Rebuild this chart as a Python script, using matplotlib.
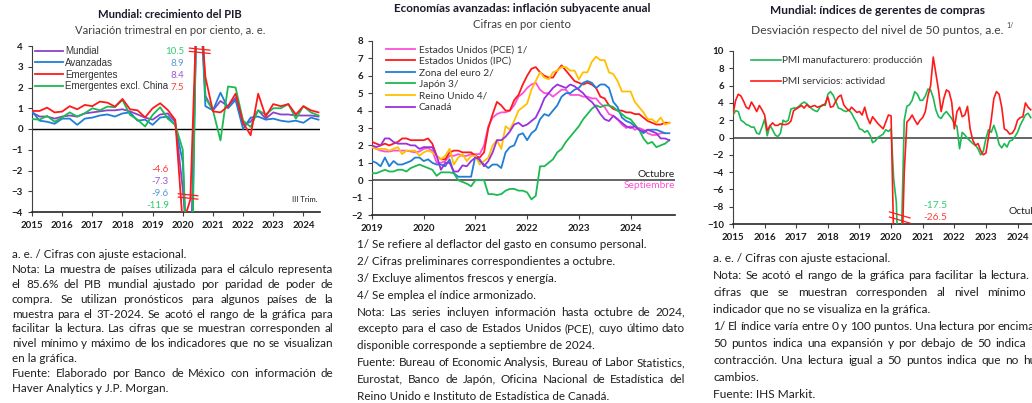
import matplotlib
matplotlib.use('Agg')
import matplotlib.pyplot as plt
import numpy as np

plt.rcParams['font.family'] = ['Lato', 'DejaVu Sans']

# ---------------- data ----------------
# Panel 1: quarterly GDP growth, 2015Q1 - 2024Q3
pib_mundial = [0.8, 0.6, 0.6, 0.5, 0.6, 0.65, 0.6, 0.75, 0.8, 0.85, 0.9, 0.9,
               0.95, 0.85, 0.7, 0.55, 0.45, 0.7, 0.75, 0.35, -2.9, -7.3, 8.4, 1.6,
               0.9, 1.35, 1.1, 1.5, 0.2, 0.35, 0.9, 0.5, 0.8, 0.7, 0.7, 0.65,
               0.65, 0.65, 0.6]
pib_avanzadas = [0.85, 0.4, 0.35, 0.25, 0.5, 0.5, 0.2, 0.5, 0.55, 0.65, 0.7, 0.6,
                 0.75, 0.8, 0.4, 0.45, 0.2, 0.55, 0.6, 0.2, -1.6, -9.6, 8.9, 1.1,
                 0.9, 1.75, 1.0, 1.4, 0.0, 0.55, 0.6, 0.45, 0.5, 0.4, 0.35, 0.4,
                 0.3, 0.55, 0.45]
pib_emergentes = [0.87, 0.87, 1.03, 0.8, 0.84, 1.1, 0.95, 1.16, 1.1, 1.32, 1.27, 1.08,
                  1.45, 0.95, 0.9, 0.56, 1.0, 1.24, 0.92, 0.44, -4.6, -3.4, 7.5, 2.5,
                  0.85, 0.8, 1.1, 1.7, 0.3, -0.3, 1.7, 0.6, 1.2, 1.1, 1.2, 0.7,
                  1.1, 0.9, 0.8]
pib_emerg_sin_china = [0.48, 0.45, 0.63, 0.35, 0.56, 0.8, 0.6, 0.76, 1.0, 0.9, 1.08, 1.05,
                       1.4, 0.68, 0.45, 0.12, 0.68, 1.05, 0.5, 0.2, -1.0, -11.9, 10.5, 1.5,
                       0.9, -0.55, 2.05, 2.0, 0.4, 0.1, 0.9, 0.7, 1.0, 1.0, 1.2, 0.5,
                       1.1, 0.8, 0.65]
pib_nombres = ['Mundial', 'Avanzadas', 'Emergentes', 'Emergentes excl. China']
pib_max = ['10.5', '8.9', '8.4', '7.5']
pib_min = ['-4.6', '-7.3', '-9.6', '-11.9']
anios_pib = list(range(2015, 2025))

# Panel 2: monthly core inflation, Jan 2019 - Oct 2024 (PCE to Sep 2024)
inf_pce = [1.9, 1.8, 1.7, 1.65, 1.65, 1.7, 1.7, 1.7, 1.7, 1.65, 1.6, 1.65,
           1.8, 1.85, 1.7, 1.0, 1.0, 1.1, 1.4, 1.4, 1.5, 1.4, 1.4, 1.5,
           1.5, 1.5, 2.0, 3.1, 3.6, 3.8, 3.9, 3.9, 4.0, 4.3, 4.8, 5.0,
           5.3, 5.5, 5.6, 5.2, 5.0, 5.0, 4.8, 5.0, 5.2, 5.2, 4.9, 4.9,
           4.9, 4.8, 4.8, 4.7, 4.7, 4.4, 4.2, 3.8, 3.7, 3.5, 3.2, 3.0,
           3.1, 2.9, 3.0, 2.9, 2.7, 2.6, 2.6, 2.7, 2.7]
inf_ipc = [2.2, 2.1, 2.0, 2.1, 2.0, 2.1, 2.2, 2.4, 2.4, 2.3, 2.3, 2.3,
           2.3, 2.4, 2.1, 1.4, 1.2, 1.2, 1.6, 1.7, 1.7, 1.6, 1.6, 1.6,
           1.4, 1.3, 1.6, 3.0, 3.8, 4.5, 4.3, 4.0, 4.0, 4.6, 4.9, 5.5,
           6.0, 6.4, 6.5, 6.2, 6.0, 5.9, 5.9, 6.3, 6.6, 6.3, 6.0, 5.7,
           5.6, 5.5, 5.6, 5.5, 5.3, 4.8, 4.7, 4.3, 4.1, 4.0, 4.0, 3.9,
           3.9, 3.8, 3.8, 3.6, 3.4, 3.3, 3.2, 3.2, 3.3, 3.3]
inf_euro = [1.1, 1.0, 0.8, 1.3, 0.8, 1.1, 0.9, 0.9, 1.0, 1.1, 1.3, 1.3,
            1.1, 1.2, 1.0, 0.9, 0.9, 0.8, 1.2, 0.4, 0.2, 0.2, 0.2, 0.2,
            1.4, 1.1, 0.9, 0.7, 0.9, 0.9, 0.7, 1.6, 1.9, 2.0, 2.6, 2.7,
            2.3, 2.7, 2.9, 3.5, 3.8, 3.7, 4.0, 4.3, 4.8, 5.0, 5.0, 5.2,
            5.3, 5.6, 5.7, 5.6, 5.3, 5.5, 5.5, 5.3, 4.5, 4.2, 3.6, 3.4,
            3.3, 3.1, 2.9, 2.7, 2.9, 2.9, 2.9, 2.8, 2.7, 2.7]
inf_japon = [0.4, 0.4, 0.5, 0.6, 0.5, 0.5, 0.6, 0.6, 0.5, 0.7, 0.8, 0.9,
             0.8, 0.7, 0.6, 0.25, 0.45, 0.45, 0.45, 0.4, 0.0, -0.1, -0.2, -0.35,
             0.0, 0.0, 0.0, -0.8, -0.8, -0.85, -0.8, -0.6, -0.5, -0.5, -0.6, -0.6,
             -0.7, -1.1, -0.9, 0.8, 0.8, 1.0, 1.2, 1.6, 1.8, 2.2, 2.5, 2.8,
             3.1, 3.5, 3.8, 4.1, 4.3, 4.2, 4.3, 4.3, 4.2, 4.0, 3.8, 3.6,
             3.5, 3.2, 2.9, 2.4, 2.1, 2.2, 1.9, 2.0, 2.1, 2.3]
inf_reino_unido = [1.9, 1.8, 1.8, 1.8, 1.7, 1.8, 1.9, 1.5, 1.7, 1.7, 1.7, 1.4,
                   1.6, 1.7, 1.6, 1.4, 1.2, 1.4, 1.8, 0.9, 1.3, 1.5, 1.1, 1.4,
                   1.4, 0.9, 1.1, 1.3, 2.0, 2.3, 1.8, 3.1, 2.9, 3.4, 4.0, 4.2,
                   4.4, 5.2, 5.7, 6.2, 5.9, 5.8, 6.2, 6.3, 6.5, 6.5, 6.3, 6.3,
                   5.8, 6.2, 6.2, 6.8, 7.1, 6.9, 6.9, 6.2, 6.1, 5.7, 5.1, 5.1,
                   5.1, 4.5, 4.2, 3.9, 3.5, 3.5, 3.3, 3.6, 3.2, 3.3]
inf_canada = [2.0, 1.9, 2.0, 2.4, 2.4, 2.2, 2.1, 2.1, 2.1, 2.0, 2.0, 1.8,
              1.9, 1.9, 1.9, 1.4, 0.6, 1.0, 1.0, 0.5, 0.5, 0.85, 0.8, 1.1,
              1.3, 1.2, 0.8, 1.1, 1.6, 2.3, 2.3, 2.5, 2.8, 3.2, 3.3, 3.1,
              3.2, 3.4, 3.6, 4.1, 4.7, 5.0, 5.3, 5.5, 5.4, 5.3, 5.5, 5.4,
              5.2, 5.0, 4.7, 4.5, 4.2, 3.8, 3.5, 3.4, 3.7, 3.5, 3.3, 3.1,
              3.0, 3.1, 2.9, 2.8, 2.9, 2.8, 2.7, 2.4, 2.4, 2.3]
inf_nombres = ['Estados Unidos (PCE) 1/', 'Estados Unidos (IPC)', 'Zona del euro 2/',
               'Japón 3/', 'Reino Unido 4/', 'Canadá']
anios_inf = list(range(2019, 2025))

# Panel 3: monthly PMI deviation from 50, Jan 2015 - Jun 2024
pmi_manuf = [2.6, 3.1, 3.0, 2.0, 1.8, 1.5, 1.4, 1.2, 1.2, 0.5, 0.4, 1.2,
             2.1, 0.2, 1.4, 0.9, 0.3, 0.1, 0.5, 2.0, 1.8, 2.0, 3.3, 3.4,
             3.4, 3.6, 3.9, 4.1, 3.9, 3.6, 3.3, 3.1, 3.0, 3.5, 3.8, 3.7,
             5.0, 5.3, 4.9, 4.2, 3.4, 3.3, 3.1, 3.0, 3.2, 2.8, 2.2, 1.7,
             1.0, 0.9, 0.6, 0.8, 0.3, -0.6, -0.4, 0.0, 0.2, 0.4, 0.9, 0.7,
             1.0, -4.9, -7.5, -17.5, -10.5, 2.0, 3.6, 3.8, 4.3, 5.3, 5.0, 4.3,
             4.3, 4.8, 5.6, 5.5, 4.6, 3.2, 2.4, 2.2, 2.7, 3.0, 2.6, 2.2,
             1.6, 1.3, -1.3, 0.6, 0.3, -0.1, -0.4, -0.7, -0.9, -1.3, -2.0, -1.6,
             -0.1, 0.9, 0.6, 1.4, 0.5, -0.8, -1.2, -0.7, -1.1, -0.4, -0.3, 0.1,
             0.6, 1.4, 2.0, 2.6, 2.8, 2.3]
pmi_servicios = [2.7, 4.3, 5.0, 4.8, 4.2, 3.5, 3.3, 4.1, 3.6, 3.0, 3.7, 3.2,
                 2.6, 0.8, 1.3, 1.7, 1.4, 1.4, 1.6, 1.5, 1.5, 1.6, 1.9, 3.1,
                 3.3, 3.5, 3.7, 3.4, 3.8, 3.5, 3.6, 3.7, 3.5, 3.6, 3.7, 3.9,
                 4.7, 3.5, 3.6, 4.2, 4.7, 4.9, 3.8, 3.4, 3.1, 3.5, 3.2, 2.9,
                 3.0, 2.6, 3.5, 2.3, 1.6, 2.4, 2.0, 1.6, 1.3, 1.0, 1.8, 2.6,
                 2.5, -12.0, -22.0, -26.5, -15.0, -4.0, 1.8, 2.1, 2.6, 2.0, 1.5, 2.0,
                 2.3, 3.0, 4.8, 6.0, 9.3, 7.4, 5.5, 3.0, 4.5, 5.5, 5.3, 4.1,
                 1.0, 3.0, 3.5, 2.4, 2.6, 3.6, 1.0, -0.3, -0.9, -0.7, -1.5, -2.0,
                 -1.8, 0.1, 2.0, 4.5, 5.3, 5.0, 3.5, 1.0, 0.8, 0.4, 0.5, 1.0,
                 2.0, 2.3, 2.4, 4.0, 3.5, 3.2]
pmi_nombres = ['PMI manufacturero: producción', 'PMI servicios: actividad']
pmi_min = ['-17.5', '-26.5']
anios_pmi = list(range(2015, 2025))

notas_pib = [
    ("a. e. / Cifras con ajuste estacional.", False),
    ("Nota: La muestra de países utilizada para el cálculo representa", True),
    ("el 85.6% del PIB mundial ajustado por paridad de poder de", True),
    ("compra. Se utilizan pronósticos para algunos países de la", True),
    ("muestra para el 3T-2024. Se acotó el rango de la gráfica para", True),
    ("facilitar la lectura. Las cifras que se muestran corresponden al", True),
    ("nivel mínimo y máximo de los indicadores que no se visualizan", True),
    ("en la gráfica.", False),
    ("Fuente: Elaborado por Banco de México con información de", True),
    ("Haver Analytics y J.P. Morgan.", False)]
notas_inf = [
    ("1/ Se refiere al deflactor del gasto en consumo personal.", False),
    ("2/ Cifras preliminares correspondientes a octubre.", False),
    ("3/ Excluye alimentos frescos y energía.", False),
    ("4/ Se emplea el índice armonizado.", False),
    ("Nota: Las series incluyen información hasta octubre de 2024,", True),
    ("excepto para el caso de Estados Unidos (PCE), cuyo último dato", True),
    ("disponible corresponde a septiembre de 2024.", False),
    ("Fuente: Bureau of Economic Analysis, Bureau of Labor Statistics,", True),
    ("Eurostat, Banco de Japón, Oficina Nacional de Estadística del", True),
    ("Reino Unido e Instituto de Estadística de Canadá.", False)]
notas_pmi = [
    ("a. e. / Cifras con ajuste estacional.", False),
    ("Nota: Se acotó el rango de la gráfica para facilitar la lectura. Las", True),
    ("cifras que se muestran corresponden al nivel mínimo del", True),
    ("indicador que no se visualiza en la gráfica.", False),
    ("1/ El índice varía entre 0 y 100 puntos. Una lectura por encima de", True),
    ("50 puntos indica una expansión y por debajo de 50 indica una", True),
    ("contracción. Una lectura igual a 50 puntos indica que no hubo", True),
    ("cambios.", False),
    ("Fuente: IHS Markit.", False)]

# ---------------- figure ----------------
W, H = 1032, 403
fig = plt.figure(figsize=(W / 100, H / 100), dpi=100)
fig.patch.set_facecolor('white')
renderer = fig.canvas.get_renderer()
TXT = '#1e1e1e'


def box(l, t, r, b):
    return [l / W, 1 - b / H, (r - l) / W, (b - t) / H]


def ftext(x, y, s, **kw):
    return fig.text(x / W, 1 - y / H, s, **kw)


def style_axis(ax, zero_color, zero_lw):
    for s in ['top', 'right']:
        ax.spines[s].set_visible(False)
    ax.spines['left'].set_color('#404040')
    ax.spines['left'].set_linewidth(0.8)
    ax.spines['bottom'].set_color('#262626')
    ax.spines['bottom'].set_linewidth(1.2)
    ax.axhline(0, color=zero_color, lw=zero_lw, zorder=1)
    ax.tick_params(axis='both', length=3, width=0.8, colors='#404040',
                   labelsize=7, labelcolor=TXT)
    for lab in ax.get_xticklabels() + ax.get_yticklabels():
        lab.set_fontweight('bold')


def notes(lines, x0, x1, y0, dy, size=8.4):
    # justified paragraph lines, spaces stretched to fill x0..x1
    for i, (line, just) in enumerate(lines):
        y = y0 + i * dy
        words = line.split(' ')
        if not just:
            ftext(x0, y, line, fontsize=size, color=TXT, va='center')
            continue
        objs = [ftext(0, y, w, fontsize=size, color=TXT, va='center') for w in words]
        widths = [o.get_window_extent(renderer).width for o in objs]
        gap = (x1 - x0 - sum(widths)) / (len(words) - 1)
        x = x0
        for o, w in zip(objs, widths):
            o.set_x(x / W)
            x += w + gap


def titles(cx, y_t, y_s, t, s, tsize=8.1, ssize=8.1):
    ftext(cx, y_t, t, fontsize=tsize, fontweight='bold', color='#1a1a2a',
          ha='center', va='center')
    return ftext(cx, y_s, s, fontsize=ssize, color='#404040', ha='center', va='center')


# ---------------- panel 1 ----------------
ax1 = fig.add_axes(box(32, 46, 320, 212))
xq = 2015 + np.arange(len(pib_mundial)) / 4
col1 = ['#8A44C8', '#1F7FD6', '#FF1A1A', '#1DB954']
series1 = [pib_mundial, pib_avanzadas, pib_emergentes, pib_emerg_sin_china]
handles = []
for i in [0, 1, 3, 2]:
    h, = ax1.plot(xq, series1[i], color=col1[i], lw=1.3, zorder=3)
    handles.append((i, h))
handles.sort()
ax1.set_xlim(2015, 2024.55)
ax1.set_ylim(-4, 4)
ax1.set_xticks(anios_pib)
ax1.set_yticks(range(-4, 5))
style_axis(ax1, 'black', 1.0)
leg = ax1.legend([h for _, h in handles], pib_nombres, loc='upper left',
                 bbox_to_anchor=(35 / W, 1 - 46 / H), bbox_transform=fig.transFigure,
                 frameon=False, fontsize=7.0, handlelength=2.9, handletextpad=0.2,
                 labelspacing=0.18, borderaxespad=0, borderpad=0)
for t in leg.get_texts():
    t.set_family(['Liberation Sans', 'DejaVu Sans'])
    t.set_color('#333333')
lab_cols_max = ['#2ECC71', '#5B9BD5', '#9B59D0', '#FF3B3B']
lab_cols_min = ['#FF3B3B', '#9B59D0', '#5B9BD5', '#2ECC71']
for i, s in enumerate(pib_max):
    ftext(184, 52 + i * 11.7, s, fontsize=7, color=lab_cols_max[i], ha='right', va='center')
for i, s in enumerate(pib_min):
    ftext(169, 169 + i * 12, s, fontsize=7, color=lab_cols_min[i], ha='right', va='center')
ftext(318, 200, 'III Trim.', fontsize=5.5, color=TXT, ha='right', va='center')
# axis-break marks
for dy in [0, 0.16]:
    ax1.plot([2020.22, 2020.9], [3.9 - dy, 3.8 - dy], color='#FF1A1A', lw=0.9,
             clip_on=False, zorder=5)
    ax1.plot([2019.85, 2020.5], [-3.12 - dy, -3.22 - dy], color='#FF1A1A', lw=0.9,
             clip_on=False, zorder=5)
titles(170, 14, 31, 'Mundial: crecimiento del PIB',
       'Variación trimestral en por ciento, a. e.')

# ---------------- panel 2 ----------------
ax2 = fig.add_axes(box(372, 41, 675, 215))
xm = 2019 + np.arange(len(inf_ipc)) / 12
col2 = ['#FF4FD8', '#FF1A1A', '#1F7FD6', '#1DB954', '#FFC000', '#9B30E0']
series2 = [inf_pce, inf_ipc, inf_euro, inf_japon, inf_reino_unido, inf_canada]
h2 = []
for s, c in zip(series2, col2):
    h, = ax2.plot(xm[:len(s)], s, color=c, lw=1.3, zorder=3)
    h2.append(h)
ax2.set_xlim(2019, 2024.86)
ax2.set_ylim(-2, 8)
ax2.set_xticks(anios_inf)
ax2.set_yticks(range(-2, 9))
style_axis(ax2, '#595959', 1.3)
leg2 = ax2.legend(h2, inf_nombres, loc='upper left',
                  bbox_to_anchor=(386 / W, 1 - 45 / H), bbox_transform=fig.transFigure,
                  frameon=False, fontsize=7.3, handlelength=2.9, handletextpad=0.35,
                  labelspacing=0.25, borderaxespad=0, borderpad=0)
for t in leg2.get_texts():
    t.set_color('#333333')
ftext(675, 174, 'Octubre', fontsize=7.4, color=TXT, ha='right', va='center')
ftext(675, 186, 'Septiembre', fontsize=7.4, color='#FF4FD8', ha='right', va='center')
titles(522, 9, 24, 'Economías avanzadas: inflación subyacente anual',
       'Cifras en por ciento', tsize=8.4, ssize=8.2)

# ---------------- panel 3 ----------------
ax3 = fig.add_axes(box(733, 51, 1046, 224))
xp = 2015 + np.arange(len(pmi_manuf)) / 12
h3a, = ax3.plot(xp, pmi_manuf, color='#1DB954', lw=1.2, zorder=3)
h3b, = ax3.plot(xp, pmi_servicios, color='#FF1A1A', lw=1.2, zorder=4)
ax3.set_xlim(2015, 2024.9)
ax3.set_ylim(-10, 10)
ax3.set_xticks(anios_pmi)
ax3.set_yticks(range(-10, 11, 2))
style_axis(ax3, '#595959', 1.3)
leg3 = ax3.legend([h3a, h3b], pmi_nombres, loc='upper left',
                  bbox_to_anchor=(751 / W, 1 - 56 / H), bbox_transform=fig.transFigure,
                  frameon=False, fontsize=7.2, handlelength=3.0, handletextpad=0.1,
                  labelspacing=1.25, borderaxespad=0, borderpad=0)
for t in leg3.get_texts():
    t.set_color('#333333')
ftext(923, 205, pmi_min[0], fontsize=7.4, color='#2ECC71', ha='left', va='center')
ftext(923, 218, pmi_min[1], fontsize=7.4, color='#FF3B3B', ha='left', va='center')
ftext(1046, 212, 'Octubre', fontsize=7.4, color=TXT, ha='right', va='center')
for dy in [0, 0.6]:
    ax3.plot([2019.95, 2020.6], [-8.6 - dy, -9.3 - dy], color='#FF1A1A', lw=0.9,
             clip_on=False, zorder=5)
sub = titles(877, 11, 31, 'Mundial: índices de gerentes de compras',
             'Desviación respecto del nivel de 50 puntos, a.e.', tsize=8.6, ssize=8.7)
ext = sub.get_window_extent(renderer)
ftext(ext.x1 + 3, 26, '1/', fontsize=5, color='#404040', ha='left', va='center')

# ---------------- notes ----------------
notes(notas_pib, 12, 333, 255, 14.8)
notes(notas_inf, 357, 685, 245, 16.8)
notes(notas_pmi, 713, 1050, 258, 17.1, size=8.6)

fig.savefig('out.png', dpi=100, facecolor='white')
